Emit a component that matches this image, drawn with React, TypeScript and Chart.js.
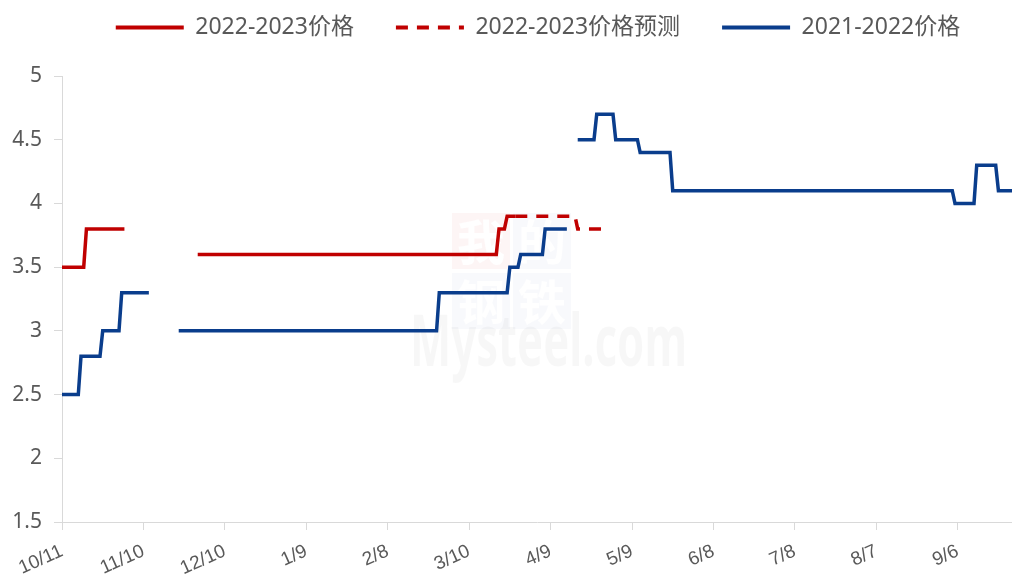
import React, { useEffect, useRef } from 'react';
import { Chart, registerables } from 'chart.js';

Chart.register(...registerables);

// x-axis tick labels, one every 30 days starting 10/11
const tickLabels = ['10/11', '11/10', '12/10', '1/9', '2/8', '3/10', '4/9', '5/9', '6/8', '7/8', '8/7', '9/6'];
const tickStepDays = 30;
const lastDay = 350;

// 2022-2023 price (actual) — day offset from 10/11, value (null = gap)
const price2223Days = [0, 8, 9, 23, 36, 50, 160, 161, 163, 164, 167];
const price2223Vals = [3.5, 3.5, 3.8, 3.8, null, 3.6, 3.6, 3.8, 3.8, 3.9, 3.9];

// 2022-2023 price forecast
const forecast2223Days = [167, 189, 190, 200];
const forecast2223Vals = [3.9, 3.9, 3.8, 3.8];

// 2021-2022 price
const price2122Days = [0, 6, 7, 14, 15, 21, 22, 32, 38, 43, 138, 139, 164, 165, 168, 169, 177, 178, 186, 188, 190, 196, 197, 203, 204, 212, 213, 224, 225, 328, 329, 336, 337, 344, 345, 350];
const price2122Vals = [2.5, 2.5, 2.8, 2.8, 3.0, 3.0, 3.3, 3.3, null, 3.0, 3.0, 3.3, 3.3, 3.5, 3.5, 3.6, 3.6, 3.8, 3.8, null, 4.5, 4.5, 4.7, 4.7, 4.5, 4.5, 4.4, 4.4, 4.1, 4.1, 4.0, 4.0, 4.3, 4.3, 4.1, 4.1];

const seriesNames = ['2022-2023价格', '2022-2023价格预测', '2021-2022价格'];

const RED = '#C00000';
const BLUE = '#0A3D8C';
const GRAY_TEXT = '#595959';
const AXIS_GRAY = '#D9D9D9';

const toPoints = (days: number[], vals: (number | null)[]) => days.map((d, i) => ({ x: d, y: vals[i] }));

const legendTune = {
  id: 'legendTune',
  beforeInit(chart: any) {
    const lg = chart.legend;
    if (!lg) return;
    const fit = lg.fit;
    lg.fit = function () {
      fit.call(this);
      this.height = 76;
    };
    const draw = lg.draw;
    lg.draw = function (...args: any[]) {
      const c = this.ctx;
      c.save();
      c.translate(32, -26);
      draw.apply(this, args);
      c.restore();
    };
  },
};

const watermark = {
  id: 'watermark',
  beforeDatasetsDraw(chart: any) {
    const ctx = chart.ctx;
    ctx.save();
    ctx.fillStyle = 'rgba(220,60,60,0.05)';
    ctx.fillRect(452, 213, 58, 56);
    ctx.fillStyle = 'rgba(70,90,170,0.04)';
    ctx.fillRect(513, 213, 58, 56);
    ctx.fillRect(452, 273, 58, 56);
    ctx.fillRect(513, 273, 58, 56);
    ctx.fillStyle = 'rgba(255,255,255,0.95)';
    ctx.font = 'bold 48px "Noto Sans CJK SC"';
    ctx.textAlign = 'center';
    ctx.textBaseline = 'middle';
    ctx.fillText('我', 481, 242);
    ctx.fillText('的', 542, 242);
    ctx.fillText('钢', 481, 302);
    ctx.fillText('铁', 542, 302);
    ctx.fillStyle = 'rgba(0,0,0,0.032)';
    ctx.font = 'bold 72px "Noto Sans"';
    ctx.textAlign = 'left';
    ctx.textBaseline = 'alphabetic';
    const text = 'Mysteel.com';
    const w = ctx.measureText(text).width;
    ctx.translate(410, 366);
    ctx.scale(277 / w, 1);
    ctx.fillText(text, 0, 0);
    ctx.restore();
  },
};

export default function App() {
  const ref = useRef<HTMLCanvasElement>(null);
  useEffect(() => {
    const chart = new Chart(ref.current as HTMLCanvasElement, {
      type: 'line',
      data: {
        datasets: [
          {
            label: seriesNames[0],
            data: toPoints(price2223Days, price2223Vals) as any,
            borderColor: RED,
            backgroundColor: RED,
            borderWidth: 3.5,
            pointRadius: 0,
            spanGaps: false,
          },
          {
            label: seriesNames[1],
            data: toPoints(forecast2223Days, forecast2223Vals) as any,
            borderColor: RED,
            backgroundColor: RED,
            borderWidth: 3.5,
            borderDash: [12, 9],
            pointRadius: 0,
            spanGaps: false,
          },
          {
            label: seriesNames[2],
            data: toPoints(price2122Days, price2122Vals) as any,
            borderColor: BLUE,
            backgroundColor: BLUE,
            borderWidth: 3.5,
            pointRadius: 0,
            spanGaps: false,
          },
        ],
      },
      options: {
        animation: false,
        responsive: true,
        maintainAspectRatio: false,
        layout: { padding: 0 },
        plugins: {
          tooltip: { enabled: false },
          legend: {
            position: 'top',
            labels: {
              usePointStyle: true,
              pointStyle: 'line',
              pointStyleWidth: 68,
              boxWidth: 68,
              padding: 42,
              color: GRAY_TEXT,
              font: { family: '"Noto Sans", "Noto Sans CJK SC", sans-serif', size: 23 },
              generateLabels: (c: any) => {
                const items = (Chart.defaults.plugins.legend.labels as any).generateLabels(c);
                items.forEach((it: any) => {
                  const ds = c.data.datasets[it.datasetIndex];
                  it.lineDash = ds.borderDash || [];
                  it.lineWidth = 4;
                  it.strokeStyle = ds.borderColor;
                  it.fillStyle = ds.borderColor;
                  it.lineCap = 'butt';
                });
                return items;
              },
            },
          },
        },
        scales: {
          x: {
            type: 'linear',
            min: 0,
            max: lastDay,
            afterBuildTicks: (scale: any) => {
              scale.ticks = tickLabels.map((_, i) => ({ value: i * tickStepDays }));
            },
            afterFit: (scale: any) => {
              scale.height = 57;
            },
            ticks: {
              autoSkip: false,
              minRotation: 24,
              maxRotation: 24,
              padding: 10,
              color: GRAY_TEXT,
              font: { family: '"Liberation Sans", sans-serif', size: 19 },
              callback: (v: any) => tickLabels[Math.round(Number(v) / tickStepDays)] ?? '',
            },
            grid: {
              display: true,
              drawOnChartArea: false,
              drawTicks: true,
              tickLength: 8,
              color: AXIS_GRAY,
            },
            border: { display: true, color: AXIS_GRAY, width: 1 },
          },
          y: {
            min: 1.5,
            max: 5,
            afterFit: (scale: any) => {
              scale.width = 62;
            },
            ticks: {
              stepSize: 0.5,
              padding: 12,
              color: GRAY_TEXT,
              font: { family: '"Noto Sans", sans-serif', size: 21 },
              callback: (v: any) => String(Number(v)),
            },
            grid: {
              display: true,
              drawOnChartArea: false,
              drawTicks: true,
              tickLength: 8,
              color: AXIS_GRAY,
            },
            border: { display: true, color: AXIS_GRAY, width: 1 },
          },
        },
      },
      plugins: [legendTune, watermark],
    });
    return () => chart.destroy();
  }, []);
  return (
    <div style={{ position: 'absolute', left: 0, top: 0, width: 1012, height: 579, background: '#fff' }}>
      <canvas ref={ref} />
    </div>
  );
}
